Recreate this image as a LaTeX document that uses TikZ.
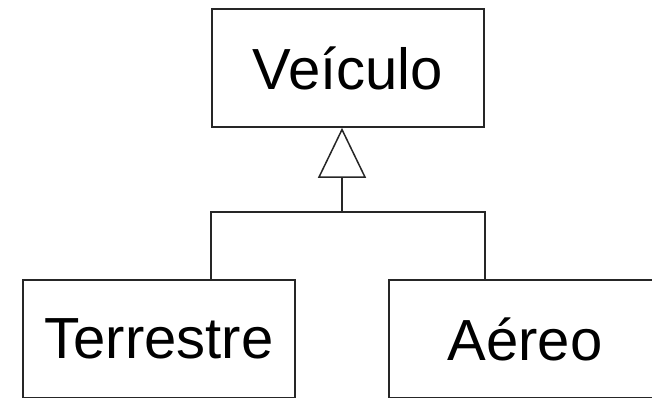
\documentclass[tikz,border=0pt]{standalone}
\usepackage{fontspec}
\setmainfont{Liberation Sans}
\usetikzlibrary{arrows.meta}
\begin{document}
\begin{tikzpicture}[x=1pt,y=1pt,
  cls/.style={draw=black!85, line width=1.7pt, minimum width=272pt, minimum height=118pt, inner sep=0pt,
    font=\fontsize{58}{60}\selectfont},
  conn/.style={draw=black!85, line width=1.5pt},
  gen/.style={-{Triangle[open, width=48pt, length=50pt, line width=1.5pt]}}]
\useasboundingbox (0,0) rectangle (652,397);
\clip (0,0) rectangle (652,397);
\node[cls] (V) at (348,329) {Veículo};
\node[cls] (T) at (159,58) {Terrestre};
\node[cls] (A) at (525,58) {Aéreo};
\coordinate (j) at (342,185);
\draw[conn] (V.south west |- T.north) |- (j);
\draw[conn] (V.south east |- A.north) |- (j);
\draw[conn,gen] (j) -- (j |- V.south);
\end{tikzpicture}
\end{document}
